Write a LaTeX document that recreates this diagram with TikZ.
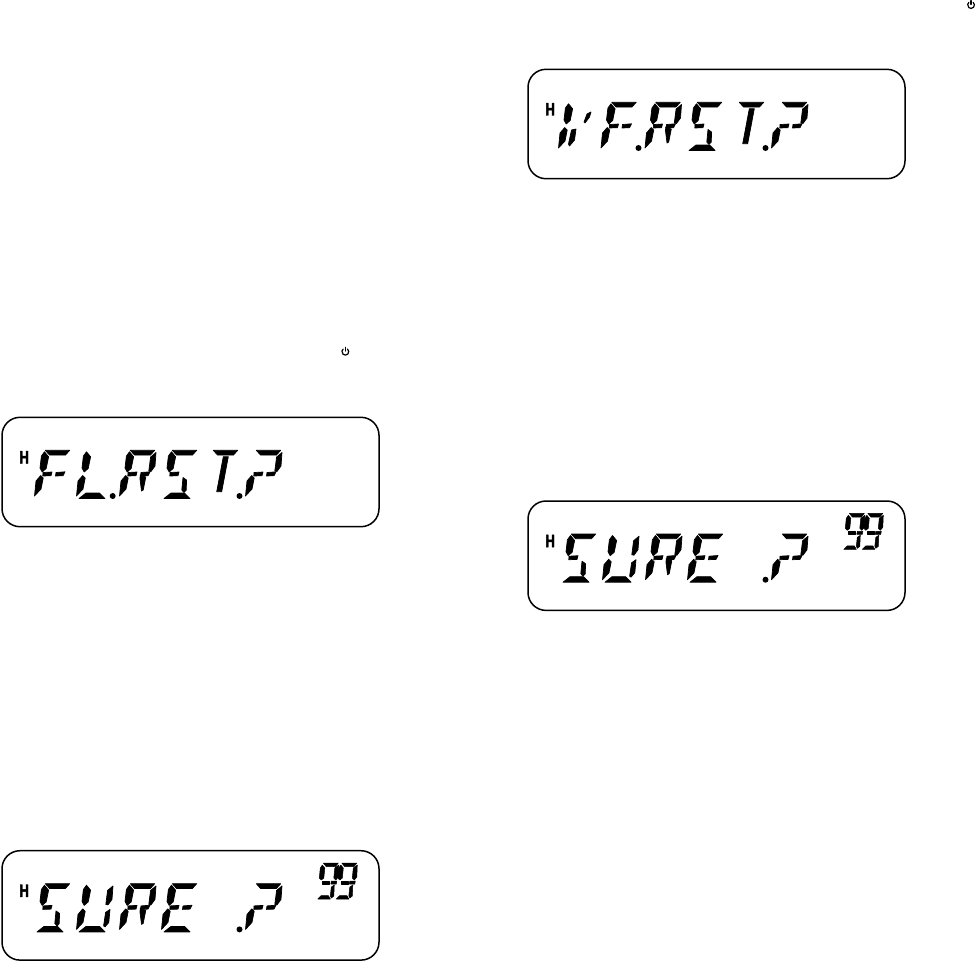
\documentclass[tikz,border=0pt]{standalone}
\usepackage{fontspec}
\setmainfont{Liberation Sans}
\newfontfamily\lcdheavy[FakeBold=2.5]{Liberation Sans Bold}
\usetikzlibrary{calc}
\tikzset{lcdframe/.style={draw=black,line width=1.5,rounded corners=18},
 lcdH/.style={inner sep=0,font=\fontsize{18}{18}\lcdheavy},
 lcdseg/.style={fill=black,draw=black,line width=.7,line join=round},
 lcdsmall/.style={fill=black,draw=black,line width=.5,line join=round},
 pwr/.style={line width=1.2,line cap=round}}
\newcommand\segA{\path[lcdseg] (.3,.3)--(24.7,.3)--(20.5,5)--(4.5,5)--cycle;}
\newcommand\segB{\path[lcdseg] (26,2.5)--(25,16)--(21,21.5)--(18.8,21)--(20.6,7)--cycle;}
\newcommand\segC{\path[lcdseg] (23,26)--(21.8,39)--(18,43.5)--(16.6,42.5)--(18.6,29)--cycle;}
\newcommand\segD{\path[lcdseg] (-8,48.5)--(18,48.5)--(12.5,43)--(-1,43)--cycle;}
\newcommand\segE{\path[lcdseg] (-4.3,25.5)--(-1.8,28)--(-4,39)--(-10.5,46)--(-9,31)--cycle;}
\newcommand\segF{\path[lcdseg] (-0.5,1.8)--(3.6,6.8)--(1.2,18.5)--(-2.8,22)--(-5,18)--(-3.6,6)--cycle;}
\newcommand\segG{\path[lcdseg] (-2,22.5)--(7,22)--(6,25.7)--(-2.2,26)--cycle;}
\newcommand\segH{\path[lcdseg] (11,22.5)--(20,21.8)--(18,25.7)--(10.5,26)--cycle;}
\newcommand\segK{\path[lcdseg] (10.2,25)--(15.8,27)--(13.2,40)--(11.5,41)--(10,29)--cycle;}
\newcommand\segS{\path[lcdseg] (11,27.5)--(14.5,30)--(14.3,40)--(12,42.5)--(9.8,40)--cycle;}
\newcommand\segT{\path[lcdseg] (10.3,6.7)--(15.3,6.7)--(8.7,41.7)--(3.7,41.7)--cycle;}
\newcommand\segV{\path[lcdseg] (22,10)--(20.5,15)--(16,21)--(15,20)--(18,12)--cycle;}
\newcommand\segL{\path[lcdseg] (7,27)--(5.5,38)--(.5,44)--(-.5,42)--(2.5,28)--cycle;}
\newcommand\dig[2]{\begin{scope}[shift={(#1,450)}]\foreach \s in {#2}{\csname seg\s\endcsname}\end{scope}}
\newcommand\lcddot[1]{\fill (#1,496) circle (3);}
\newcommand\smallnine[1]{\begin{scope}[shift={(#1,429.6)}]
 \path[lcdsmall] (0,0)--(15,0)--(12,3.7)--(3,3.7)--cycle;
 \path[lcdsmall] (-1,2)--(1.5,5)--(.5,15)--(-2,17)--(-4,15)--(-3,5)--cycle;
 \path[lcdsmall] (15.5,2)--(15,14)--(12.5,17)--(10.5,15)--(11.5,5)--cycle;
 \path[lcdsmall] (-1,18)--(6,18)--(6,21)--(-1,21)--cycle;
 \path[lcdsmall] (8,18)--(13.5,18)--(13,21)--(7.5,21)--cycle;
 \path[lcdsmall] (11,22)--(10.5,33)--(8,35)--(7,33)--(8,24)--cycle;
 \path[lcdsmall] (-5.5,36)--(7,36)--(5,32.5)--(-2,32.5)--cycle;
 \end{scope}}
\newcommand\lcdbox{\draw[lcdframe] (2,417.3) rectangle (379,526.7);
 \node[lcdH] at (24.2,457.3) {\scalebox{.72}[1]{H}};}
\newcommand\sure[1]{\begin{scope}[shift={#1}]\lcdbox
 \dig{45}{A,F,G,S,D}\dig{87}{F,E,D,B,C}\dig{130}{A,F,E,G,H,B,K}\dig{172}{A,F,E,G,H,D}
 \lcddot{239.5}\dig{256}{A,B,G,H,E}\smallnine{323.3}\smallnine{341.8}\end{scope}}
\newcommand\power[1]{\draw[pwr] ($(#1)+(2.2,-2.6)$) arc[start angle=-50,end angle=230,radius=3.4];
 \draw[pwr] ($(#1)+(0,-4.4)$)--($(#1)+(0,-.6)$);}
\begin{document}
\begin{tikzpicture}[x=1pt,y=-1pt]
\useasboundingbox (0,0) rectangle (976,962);
\fill[white] (0,0) rectangle (976,962);
% FL.RST.?
\begin{scope}
\lcdbox
\dig{45}{A,F,G,H,E}\dig{87}{F,E,D}\lcddot{112.7}\dig{130}{A,F,E,G,H,B,K}\dig{172}{A,F,G,S,D}
\dig{213}{A,T}\lcddot{239.5}\dig{256}{A,B,G,H,E}
\end{scope}
% VF.RST.?
\begin{scope}[shift={(526,-348)}]
\lcdbox
\dig{43}{F,L,V,E}\dig{85.5}{A,F,G,H,E}\lcddot{112.5}\dig{129.5}{A,F,E,G,H,B,K}\dig{171}{A,F,G,S,D}
\dig{213}{A,T}\lcddot{239.5}\dig{256}{A,B,G,H,E}
\end{scope}
\sure{(0,433.4)}
\sure{(526,83.7)}
\power{345.3,351.7}
\power{971,5}
\end{tikzpicture}
\end{document}
